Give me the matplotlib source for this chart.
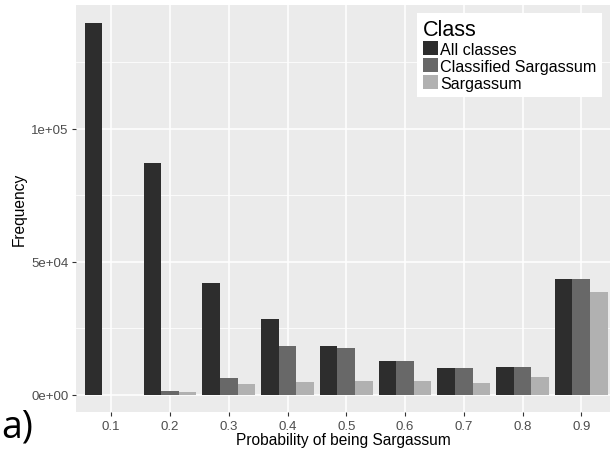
import matplotlib.pyplot as plt
import numpy as np

plt.rcParams['font.family'] = ['Liberation Sans', 'DejaVu Sans']

# probability bins and counts per class
bins = ['0.1', '0.2', '0.3', '0.4', '0.5', '0.6', '0.7', '0.8', '0.9']
all_classes = [139800, 87200, 42100, 28700, 18400, 12600, 10100, 10700, 43600]
classified = [0, 1400, 6400, 18400, 17800, 12600, 10100, 10700, 43600]
sargassum = [0, 1200, 4100, 4800, 5400, 5100, 4400, 6600, 38700]

series = [('All classes', all_classes, '#2d2d2d'),
          ('Classified Sargassum', classified, '#686868'),
          ('Sargassum', sargassum, '#b1b1b1')]

fig = plt.figure(figsize=(6.1, 4.56), dpi=100)
ax = fig.add_axes([76 / 610, 43 / 456, 534 / 610, 407.3 / 456])
ax.set_facecolor('#ebebeb')

index = np.arange(1, len(bins) + 1)
bar_width = 0.3
for i, (name, vals, col) in enumerate(series):
    ax.bar(index + (i - 1) * bar_width, vals, bar_width, color=col,
           label=name, zorder=3)

ax.set_xlim(0.4, 0.4 + 534 / 58.75)
ax.set_ylim(-6391, 146729)
ax.set_xticks(index)
ax.set_xticklabels(bins)
ax.set_yticks([0, 50000, 100000])
ax.set_yticklabels(['0e+00', '5e+04', '1e+05'])
ax.set_yticks([25000, 75000, 125000], minor=True)

ax.grid(True, which='major', color='white', linewidth=1.1, zorder=0)
ax.grid(True, which='minor', axis='y', color='white', linewidth=0.55, zorder=0)
ax.tick_params(which='major', length=3, width=0.8, color='#333333',
               labelsize=9.5, labelcolor='#4d4d4d', pad=2.5)
ax.tick_params(which='minor', length=0)
for s in ax.spines.values():
    s.set_visible(False)

ax.set_xlabel('Probability of being Sargassum', fontsize=11.2, labelpad=0)
ax.set_ylabel('Frequency', fontsize=11.2, labelpad=3)

leg = ax.legend(title='Class', loc='upper right',
                bbox_to_anchor=(602 / 610, 1 - 14 / 456),
                bbox_transform=fig.transFigure,
                fontsize=11.6, title_fontsize=15.5, frameon=True,
                fancybox=False, edgecolor='white', facecolor='white',
                framealpha=1, handlelength=0.95, handleheight=0.95,
                handletextpad=0.12, labelspacing=0.1, borderpad=0.35,
                borderaxespad=0, alignment='left')
leg.get_frame().set_linewidth(0)

fig.text(0.002, 0.02, 'a)', fontsize=27, family='Open Sans',
         ha='left', va='bottom')

fig.savefig('out.png', dpi=100)
